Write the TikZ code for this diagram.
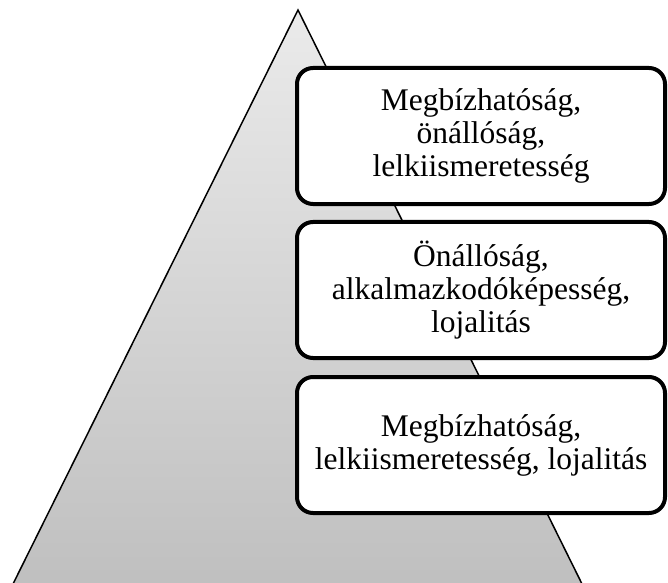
\documentclass[tikz,border=0pt]{standalone}
\usepackage{fontspec}
\setmainfont{Liberation Serif}
\begin{document}
\begin{tikzpicture}[x=1bp,y=-1bp,
  levelbox/.style={draw=black, line width=4bp, fill=white, rounded corners=16bp,
    minimum width=368bp, minimum height=136bp, align=center, inner sep=2bp,
    font=\fontsize{31.5bp}{33bp}\selectfont},
  pyr/.style={draw=black, line width=1.5bp, top color=gray!16, bottom color=gray!50}]
\useasboundingbox (0,0) rectangle (668,583);
\begin{scope}
\clip (0,0) rectangle (668,583);
\path[pyr] (298,10) -- (583,586) -- (12,586) -- cycle;
\end{scope}
\node[levelbox] (b1) at (481,136) {Megbízhatóság,\\önállóság,\\lelkiismeretesség};
\node[levelbox] (b2) at (481,290) {Önállóság,\\alkalmazkodóképesség,\\lojalitás};
\node[levelbox] (b3) at (481,445) {Megbízhatóság,\\lelkiismeretesség, lojalitás};
\end{tikzpicture}
\end{document}
